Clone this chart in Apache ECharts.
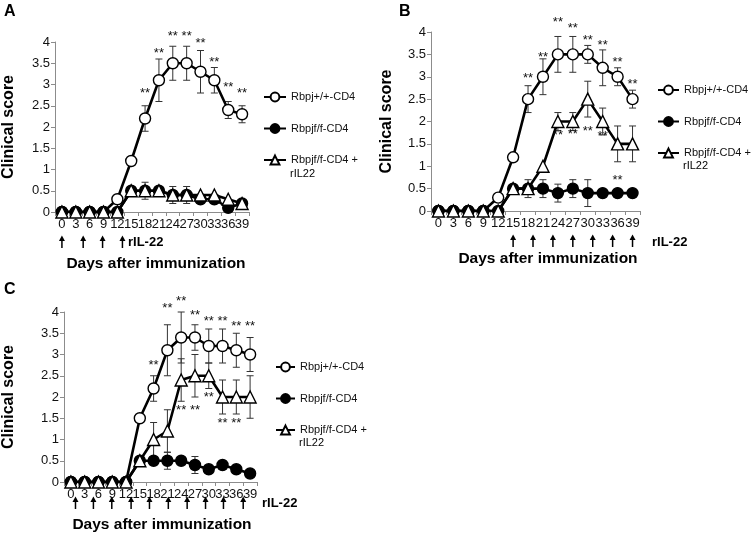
<!DOCTYPE html>
<html><head><meta charset="utf-8">
<script src="https://cdn.jsdelivr.net/npm/echarts@6/dist/echarts.min.js"></script>
<style>html,body{margin:0;padding:0;background:#fff}#c{width:751px;height:546px}</style>
</head><body><div id="c"></div>
<script>
const days = ['0','3','6','9','12','15','18','21','24','27','30','33','36','39'];
const names = ['Rbpj+/+-CD4','Rbpjf/f-CD4','Rbpjf/f-CD4 + rIL22'];

// Panel A
const wtA    = [0,0,0,0,0.3,1.2,2.2,3.1,3.5,3.5,3.3,3.1,2.4,2.3];
const wtAErr = [0,0,0,0,0,0,0.3,0.5,0.4,0.4,0.5,0.3,0.2,0.2];
const koA    = [0,0,0,0,0,0.5,0.5,0.5,0.4,0.4,0.3,0.3,0.1,0.2];
const koAErr = [0,0,0,0,0,0,0,0,0,0,0,0,0,0];
const trA    = [0,0,0,0,0,0.5,0.5,0.5,0.4,0.4,0.4,0.4,0.3,0.2];
const trAErr = [0,0,0,0,0,0,0.2,0,0.2,0.2,0,0,0,0];
const starsA = [['18',2.86],['21',3.8],['24',4.2],['27',4.2],['30',4.04],['33',3.6],['36',3.0],['39',2.86]];
const arrowDaysA = [0,4.6,8.8,13.1];

// Panel B
const wtB    = [0,0,0,0,0.3,1.2,2.5,3.0,3.5,3.5,3.5,3.2,3.0,2.5];
const wtBErr = [0,0,0,0,0,0,0.3,0.4,0.4,0.4,0.2,0.4,0.2,0.2];
const koB    = [0,0,0,0,0,0.5,0.5,0.5,0.4,0.5,0.4,0.4,0.4,0.4];
const koBErr = [0,0,0,0,0,0,0,0.2,0.2,0.2,0.3,0,0,0];
const trB    = [0,0,0,0,0,0.5,0.5,1.0,2.0,2.0,2.5,2.0,1.5,1.5];
const trBErr = [0,0,0,0,0,0,0.2,0,0.2,0.2,0.4,0.3,0.4,0.4];
const starsB = [['18',3.02],['21',3.51],['24',4.28],['27',4.15],['30',3.87],['33',3.77],['36',3.39],['39',2.89],
                ['24',1.76],['27',1.77],['30',1.85],['33',1.73],['36',0.75]];
const arrowDaysB = [15,19,23,27,31,35,39];

// Panel C
const wtC    = [0,0,0,0,0,1.5,2.2,3.1,3.4,3.4,3.2,3.2,3.1,3.0];
const wtCErr = [0,0,0,0,0,0,0.3,0.6,0.6,0.3,0.4,0.4,0.4,0.4];
const koC    = [0,0,0,0,0,0.5,0.5,0.5,0.5,0.4,0.3,0.4,0.3,0.2];
const koCErr = [0,0,0,0,0,0,0,0.2,0,0.2,0,0,0,0];
const trC    = [0,0,0,0,0,0.5,1.0,1.2,2.4,2.5,2.5,2.0,2.0,2.0];
const trCErr = [0,0,0,0,0,0,0.4,0.5,0.5,0.5,0.3,0.4,0.4,0.5];
const starsC = [['18',2.82],['21',4.16],['24',4.31],['27',3.98],['30',3.84],['33',3.84],['36',3.73],['39',3.73],
                ['24',1.75],['27',1.75],['30',2.06],['33',1.45],['36',1.45]];
const arrowDaysC = [1,4.9,8.9,13.1,17.1,21.2,25.3,29.3,33.2,37.5];

const FONT = 'Liberation Sans, Arial, sans-serif';
const AXC = '#8c8c8c';

const grids = [
  {left:54, top:42, width:195, height:170},
  {left:431, top:32, width:209, height:179},
  {left:63, top:312, width:194, height:170}
];
const nameGaps = [38, 36, 47];
const arrowOffsets = [30, 30, 21];

const xAxes = grids.map((g,k)=>({
  type:'category', gridIndex:k, data:days, boundaryGap:true,
  axisLine:{lineStyle:{color:AXC,width:1}},
  axisTick:{show:true, length:4, lineStyle:{color:AXC}},
  axisLabel:{interval:0, fontSize:13, color:'#111', margin:6, fontFamily:FONT},
  splitLine:{show:false}
}));
const yAxes = grids.map((g,k)=>({
  type:'value', gridIndex:k, min:0, max:4, interval:0.5,
  name:'Clinical score', nameLocation:'middle', nameGap:nameGaps[k], nameRotate:90,
  nameTextStyle:{fontSize:16, fontWeight:'bold', color:'#000', fontFamily:FONT},
  axisLine:{show:true, lineStyle:{color:AXC,width:1}},
  axisTick:{show:true, length:4, lineStyle:{color:AXC}},
  axisLabel:{fontSize:13, color:'#111', margin:5, fontFamily:FONT},
  splitLine:{show:false}
}));

function lineSeries(k, idx, vals){
  const sym = ['circle','circle','triangle'][idx];
  const fill = idx===1 ? '#000' : '#fff';
  return {
    type:'line', name:names[idx], xAxisIndex:k, yAxisIndex:k, data:vals,
    symbol:sym, symbolSize: idx===2 ? 12 : 11, showAllSymbol:true,
    lineStyle:{color:'#000', width:2.6},
    itemStyle:{color:fill, borderColor:'#000', borderWidth:1.4},
    z: 3+idx, animation:false, silent:true
  };
}
function errSeries(k, vals, errs){
  const data = [];
  vals.forEach((v,i)=>{ if (errs[i]>0) data.push([i, v-errs[i], v+errs[i]]); });
  return {
    type:'custom', xAxisIndex:k, yAxisIndex:k, z:2, silent:true, animation:false, data,
    encode:{x:0, y:[1,2]},
    renderItem(params, api){
      const x = api.value(0);
      const lo = api.coord([x, api.value(1)]);
      const hi = api.coord([x, api.value(2)]);
      const w = 3.5, st = {stroke:'#333', lineWidth:1};
      return {type:'group', children:[
        {type:'line', shape:{x1:lo[0],y1:lo[1],x2:hi[0],y2:hi[1]}, style:st},
        {type:'line', shape:{x1:lo[0]-w,y1:lo[1],x2:lo[0]+w,y2:lo[1]}, style:st},
        {type:'line', shape:{x1:hi[0]-w,y1:hi[1],x2:hi[0]+w,y2:hi[1]}, style:st}
      ]};
    }
  };
}
function starSeries(k, stars){
  return {
    type:'custom', xAxisIndex:k, yAxisIndex:k, z:6, silent:true, animation:false,
    data: stars.map(s=>[days.indexOf(s[0]), s[1]]),
    renderItem(params, api){
      const p = api.coord([api.value(0), api.value(1)]);
      return {type:'text', x:p[0], y:p[1]+3, style:{text:'**', fontSize:13, fontFamily:FONT, fill:'#111', align:'center', verticalAlign:'middle'}};
    }
  };
}
function arrowSeries(k, arrDays){
  const off = arrowOffsets[k];
  return {
    type:'custom', xAxisIndex:k, yAxisIndex:k, z:6, silent:true, animation:false,
    data: arrDays.map(d=>[0, d]),
    renderItem(params, api){
      const d = api.value(1);
      const p0 = api.coord([0, 0]);
      const p13 = api.coord([13, 0]);
      const x = p0[0] + (p13[0]-p0[0]) * d / 39;
      const yc = p0[1] + off;
      return {type:'group', children:[
        {type:'line', shape:{x1:x,y1:yc+6,x2:x,y2:yc-2}, style:{stroke:'#000', lineWidth:1.5}},
        {type:'polygon', shape:{points:[[x,yc-6.5],[x-3,yc-1],[x+3,yc-1]]}, style:{fill:'#000'}}
      ]};
    }
  };
}

const series = [];
const panels = [
  [wtA,wtAErr,koA,koAErr,trA,trAErr,starsA,arrowDaysA],
  [wtB,wtBErr,koB,koBErr,trB,trBErr,starsB,arrowDaysB],
  [wtC,wtCErr,koC,koCErr,trC,trCErr,starsC,arrowDaysC]
];
panels.forEach((p,k)=>{
  series.push(errSeries(k,p[0],p[1]), errSeries(k,p[2],p[3]), errSeries(k,p[4],p[5]));
  series.push(lineSeries(k,0,p[0]), lineSeries(k,1,p[2]), lineSeries(k,2,p[4]));
  series.push(starSeries(k,p[6]), arrowSeries(k,p[7]));
});

const legendPos = [
  {left:263, top:91.5, itemWidth:22},
  {left:657, top:84.5, itemWidth:21},
  {left:275, top:361.5, itemWidth:19}
];
const legends = legendPos.map(lp=>({
  data:names, orient:'vertical', left:lp.left, top:lp.top, padding:0,
  itemWidth:lp.itemWidth, itemHeight:11, itemGap:20.5, selectedMode:false,
  textStyle:{fontSize:11, color:'#111', fontFamily:FONT, lineHeight:11},
  formatter: n => n === names[2] ? 'Rbpjf/f-CD4 +' : n
}));

function txt(x,y,t,size,bold,align){
  return {type:'text', left:undefined, x:x, y:y, style:{text:t, fontSize:size, fontWeight:bold?'bold':'normal', fontFamily:FONT, fill:'#000', align:align||'left', verticalAlign:'middle'}};
}
const graphic = [
  txt(4,12,'A',16,true), txt(399,12,'B',16,true), txt(4,290,'C',16,true),
  txt(156,264,'Days after immunization',15.5,true,'center'),
  txt(548,259,'Days after immunization',15.5,true,'center'),
  txt(162,525,'Days after immunization',15.5,true,'center'),
  txt(128,242,'rIL-22',13,true), txt(652,242,'rIL-22',13,true), txt(262,503,'rIL-22',13,true),
  txt(290,174,'rIL22',11,false), txt(683,166,'rIL22',11,false), txt(299,443,'rIL22',11,false)
];

const chart = echarts.init(document.getElementById('c'), null, {renderer:'canvas'});
chart.setOption({
  animation:false, backgroundColor:'#fff',
  grid:grids, xAxis:xAxes, yAxis:yAxes, legend:legends, series, graphic
});
</script></body></html>
